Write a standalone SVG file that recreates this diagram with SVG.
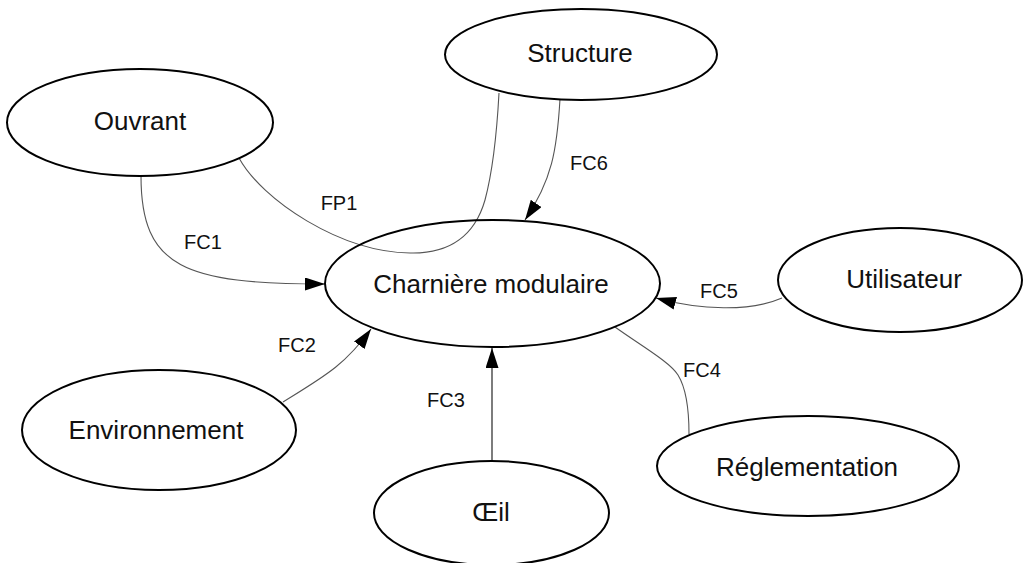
<svg xmlns="http://www.w3.org/2000/svg" width="1025" height="563" viewBox="0 0 1025 563">
<style>
.node ellipse{fill:none;stroke:#000;stroke-width:2}
.node text{font-family:"Liberation Sans",Arial,sans-serif;font-size:26px;fill:#111;text-anchor:middle}
.conn path{fill:none;stroke:#555;stroke-width:1.1}
.conn path.dark{stroke:#111}
.lbl{font-family:"Liberation Sans",Arial,sans-serif;font-size:20px;fill:#111;text-anchor:middle}
</style>
<defs>
<marker id="arr" markerUnits="userSpaceOnUse" markerWidth="20" markerHeight="13" refX="20" refY="6.5" orient="auto">
<path d="M0,0 L20,6.5 L0,13 z" fill="#000"/>
</marker>
</defs>
<rect width="1025" height="563" fill="#fff"/>
<g id="connectors" class="conn">
<path id="fp1" d="M239,158 C262,200 340,252 410,253 C450,254 475,235 485,200 C493,170 497,130 499,93"/>
<path id="fc1" d="M141,176 C141,268 185,284 325,284" marker-end="url(#arr)"/>
<path id="fc6" d="M560,99 C557,150 552,180 525,220" marker-end="url(#arr)"/>
<path id="fc5" d="M782,298 C750,312 700,310 656,298" marker-end="url(#arr)"/>
<path id="fc4" d="M615,327 C640,345 670,362 678,375 C686,388 689,410 689,434"/>
<path id="fc2" d="M283,402 C325,376 345,365 371,329" marker-end="url(#arr)"/>
<path id="fc3" class="dark" d="M492,460 L492,348" marker-end="url(#arr)"/>
<text class="lbl" x="339" y="210">FP1</text>
<text class="lbl" x="203" y="249">FC1</text>
<text class="lbl" x="589" y="170">FC6</text>
<text class="lbl" x="719" y="298">FC5</text>
<text class="lbl" x="702" y="377">FC4</text>
<text class="lbl" x="297" y="352">FC2</text>
<text class="lbl" x="446" y="407">FC3</text>
</g>
<g id="ouvrant" class="node"><ellipse cx="140" cy="122.5" rx="133" ry="53.5"/><text x="140" y="130">Ouvrant</text></g>
<g id="structure" class="node"><ellipse cx="581" cy="54.5" rx="136" ry="45.5"/><text x="580" y="62">Structure</text></g>
<g id="charniere" class="node"><ellipse cx="492.5" cy="283.5" rx="167.5" ry="63.5"/><text x="491" y="293">Charnière modulaire</text></g>
<g id="utilisateur" class="node"><ellipse cx="900" cy="280" rx="122" ry="52"/><text x="904" y="288">Utilisateur</text></g>
<g id="reglementation" class="node"><ellipse cx="808" cy="466" rx="151" ry="50"/><text x="807" y="476">Réglementation</text></g>
<g id="environnement" class="node"><ellipse cx="159" cy="430" rx="137" ry="60"/><text x="156" y="439">Environnement</text></g>
<g id="oeil" class="node"><ellipse cx="491.5" cy="513" rx="117.5" ry="52"/><text x="491" y="521">Œil</text></g>
</svg>
